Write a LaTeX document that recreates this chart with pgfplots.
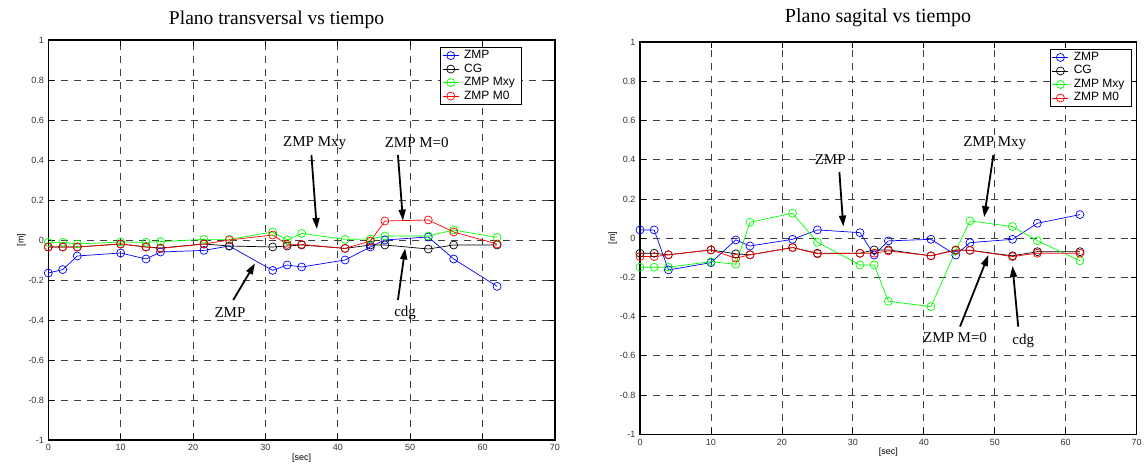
\documentclass[border=0pt]{standalone}
\usepackage{fontspec}
\setmainfont{Liberation Serif}
\newfontfamily\arial{Liberation Sans}
\usepackage{pgfplots}
\pgfplotsset{compat=1.18}
\usetikzlibrary{arrows.meta}

\definecolor{mblue}{RGB}{0,0,255}
\definecolor{mgreen}{RGB}{0,255,0}
\definecolor{mred}{RGB}{255,0,0}

\tikzset{
  ann/.style={font=\fontsize{15}{15}\selectfont},
  arr/.style={line width=1.8pt, -{Triangle[length=11pt,width=7pt]}},
}

\pgfplotsset{
  mstyle/.style={
    scale only axis,
    xmin=0, xmax=70, ymin=-1, ymax=1,
    xtick={0,10,...,70},
    ytick={-1,-0.8,-0.6,-0.4,-0.2,0,0.2,0.4,0.6,0.8,1},
    yticklabels={-1,-0.8,-0.6,-0.4,-0.2,0,0.2,0.4,0.6,0.8,1},
    /pgf/number format/assume math mode=true,
    ticklabel style={font=\arial\fontsize{9}{9}\selectfont, text=black!80},
    xticklabel style={yshift=-1pt},
    yticklabel style={xshift=-1pt},
    tick align=inside,
    major tick length=6pt,
    xtick pos=both, ytick pos=both,
    tick style={black, line width=0.8pt},
    axis line style={black, line width=1.3pt},
    grid=major,
    major grid style={black!75, dash pattern=on 7pt off 6pt, line width=0.8pt},
    every axis plot/.append style={line width=0.7pt, mark=o, mark size=4pt},
    legend style={font=\arial\fontsize{12}{12}\selectfont, draw=black, line width=0.6pt,
      inner xsep=2pt, inner ysep=2pt, row sep=0.5pt, cells={anchor=west},
      nodes={inner xsep=5pt, inner ysep=1pt, text height=8.5pt, text depth=2.5pt}},
    legend image code/.code={\draw[mark repeat=2,mark phase=2] plot coordinates {(0pt,0pt) (8pt,0pt) (16pt,0pt)};},
    clip=false,
  },
}

\pgfplotstableread{
t     zmp     cg      mxy     m0
0     -0.165  -0.035  -0.012  -0.035
2     -0.148  -0.035  -0.012  -0.035
4     -0.080  -0.035  -0.020  -0.035
10    -0.065  -0.020  -0.010  -0.020
13.5  -0.095  -0.035  -0.012  -0.035
15.5  -0.060  -0.040  -0.008  -0.042
21.5  -0.052  -0.020   0.003  -0.020
25    -0.030  -0.030   0.003   0.000
31    -0.152  -0.035   0.040   0.025
33    -0.125  -0.030   0.000  -0.022
35    -0.135  -0.025   0.033  -0.022
41    -0.100  -0.042   0.003  -0.042
44.5  -0.035  -0.025   0.005  -0.005
46.5   0.000  -0.025   0.020   0.095
52.5   0.015  -0.045   0.020   0.100
56    -0.095  -0.025   0.050   0.040
62    -0.232  -0.025   0.013  -0.020
}\transversal

\pgfplotstableread{
t     zmp     cg      mxy     m0
0      0.042  -0.077  -0.148  -0.094
2      0.042  -0.077  -0.148  -0.094
4     -0.162  -0.085  -0.148  -0.085
10    -0.125  -0.060  -0.120  -0.060
13.5  -0.009  -0.080  -0.133  -0.102
15.5  -0.040  -0.085   0.081  -0.085
21.5  -0.006  -0.048   0.127  -0.048
25     0.042  -0.077  -0.021  -0.080
31     0.028  -0.077  -0.137  -0.077
33    -0.086  -0.060  -0.137  -0.077
35    -0.014  -0.060  -0.322  -0.065
41    -0.006  -0.090  -0.349  -0.090
44.5  -0.086  -0.060  -0.064  -0.062
46.5  -0.023  -0.062   0.088  -0.062
52.5  -0.006  -0.090   0.059  -0.094
56     0.076  -0.069  -0.013  -0.077
62     0.120  -0.069  -0.115  -0.077
}\sagital

\begin{document}
\begin{tikzpicture}
\useasboundingbox (0pt,0pt) rectangle (1146pt,470pt);

\node[anchor=base, font=\fontsize{19.5}{19.5}\selectfont] at (276.5pt,445pt) {Plano transversal vs tiempo};
\node[anchor=base, font=\fontsize{20}{20}\selectfont] at (878pt,447.7pt) {Plano sagital vs tiempo};

\begin{axis}[mstyle,
  at={(48.3pt,30pt)}, anchor=south west,
  width=506.7pt, height=400pt,
  xlabel={[sec]}, ylabel={[m]},
  xlabel style={font=\arial\fontsize{9}{9}\selectfont, yshift=4pt},
  ylabel style={font=\arial\fontsize{9}{9}\selectfont, yshift=-4pt},
  legend style={at={(0.935,0.983)}, anchor=north east},
]
\addplot[mblue] table[x=t,y=zmp] {\transversal};
\addplot[black] table[x=t,y=cg] {\transversal};
\addplot[mgreen] table[x=t,y=mxy] {\transversal};
\addplot[mred] table[x=t,y=m0] {\transversal};
\legend{ZMP,CG,ZMP Mxy,ZMP M0}
\node[ann] at (36.8,0.485) {ZMP Mxy};
\draw[arr] (36.35,0.425) -- (37.1,0.055);
\node[ann] at (50.9,0.485) {ZMP M=0};
\draw[arr] (48.3,0.425) -- (49.0,0.097);
\node[ann] at (25.1,-0.365) {ZMP};
\draw[arr] (25.55,-0.3) -- (28.55,-0.117);
\node[ann] at (49.3,-0.365) {cdg};
\draw[arr] (48.3,-0.3) -- (49.3,-0.042);
\end{axis}

\begin{axis}[mstyle,
  at={(640pt,35.7pt)}, anchor=south west,
  width=496.7pt, height=392.3pt,
  xlabel={[sec]}, ylabel={[m]},
  xlabel style={font=\arial\fontsize{9}{9}\selectfont, yshift=4pt},
  ylabel style={font=\arial\fontsize{9}{9}\selectfont, yshift=-4pt},
  legend style={at={(0.99,0.983)}, anchor=north east},
]
\addplot[mblue] table[x=t,y=zmp] {\sagital};
\addplot[black] table[x=t,y=cg] {\sagital};
\addplot[mgreen] table[x=t,y=mxy] {\sagital};
\addplot[mred] table[x=t,y=m0] {\sagital};
\legend{ZMP,CG,ZMP Mxy,ZMP M0}
\node[ann] at (26.8,0.399) {ZMP};
\draw[arr] (28.1,0.337) -- (28.65,0.059);
\node[ann] at (50.0,0.485) {ZMP Mxy};
\draw[arr] (49.8,0.424) -- (48.5,0.107);
\node[ann] at (44.4,-0.509) {ZMP M=0};
\draw[arr] (45.1,-0.451) -- (49.1,-0.086);
\node[ann] at (54.0,-0.524) {cdg};
\draw[arr] (53.3,-0.451) -- (52.5,-0.142);
\end{axis}
\end{tikzpicture}
\end{document}
